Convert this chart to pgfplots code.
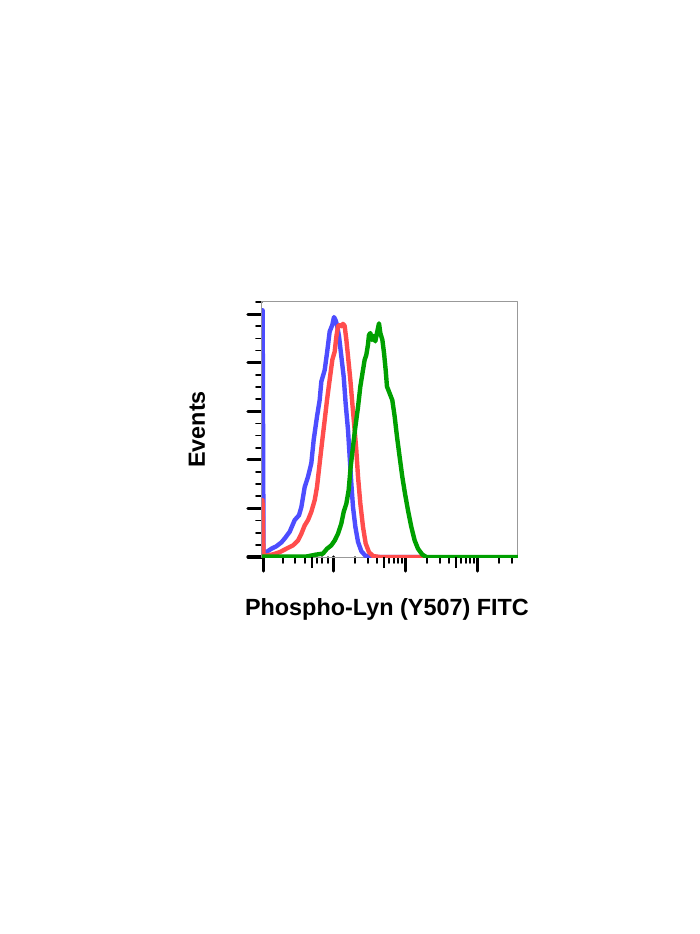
\documentclass[border=0pt]{standalone}
\usepackage{pgfplots}
\pgfplotsset{compat=1.18}
\usepackage{fontspec}
\setmainfont{Liberation Sans}
\definecolor{cblue}{RGB}{77,77,255}
\definecolor{cred}{RGB}{255,77,77}
\definecolor{cgreen}{RGB}{0,160,0}
\begin{document}
\begin{tikzpicture}
\useasboundingbox (0,0) rectangle (350pt,467pt);
\begin{axis}[
  at={(131pt,188.5pt)}, anchor=south west,
  scale only axis, width=128pt, height=127.5pt,
  xmin=0.009, xmax=3.565, ymin=0, ymax=5.25,
  axis line style={draw=gray!80, line width=0.5pt},
  tick align=outside, xtick pos=bottom, ytick pos=left,
  xtick={0.032,1,2,3},
  minor xtick={0.306,0.472,0.611,0.778,0.843,0.926,
               1.301,1.477,1.602,1.778,1.845,1.903,1.954,
               2.301,2.477,2.602,2.778,2.845,2.903,2.954,
               3.301,3.477},
  ytick={0,1,2,3,4,5},
  minor ytick={0.25,0.5,0.75,1.25,1.5,1.75,2.25,2.5,2.75,3.25,3.5,3.75,4.25,4.5,4.75,5.25},
  xticklabels={}, yticklabels={},
  major tick length=7pt, minor tick length=3pt,
  major tick style={black, line width=1.6pt},
  minor tick style={black, line width=0.9pt},
  xlabel={Phospho-Lyn (Y507) FITC},
  ylabel={Events},
  label style={font=\fontsize{11.7}{14}\selectfont\bfseries},
  xlabel style={at={(axis description cs:0.488,-0.204)}, anchor=center},
  ylabel style={at={(axis description cs:-0.254,0.5)}, anchor=center},
  line join=round, line cap=round,
]
\addplot[cblue, line width=2.2pt] coordinates {
(0.018,0) (0.018,5.08) (0.03,0.08) (0.069,0.1) (0.139,0.17) (0.208,0.22) (0.278,0.3)
(0.324,0.38) (0.394,0.52) (0.463,0.76) (0.523,0.86) (0.556,1.03) (0.602,1.44)
(0.648,1.65) (0.694,1.93) (0.727,2.41) (0.773,2.89) (0.810,3.23) (0.833,3.61)
(0.880,3.85) (0.912,4.2) (0.949,4.64) (0.986,4.78) (1.009,4.94) (1.032,4.87)
(1.051,4.78) (1.079,4.54) (1.111,4.13) (1.144,3.71) (1.171,3.16) (1.204,2.61)
(1.227,2.06) (1.250,1.51) (1.273,1.03) (1.306,0.62) (1.343,0.31) (1.389,0.12)
(1.449,0.02) (1.528,0) (2.27,0)
};
\addplot[cred, line width=2.2pt] coordinates {
(0.016,0) (0.016,1.17) (0.03,0.04) (0.069,0.03) (0.162,0.055) (0.255,0.1) (0.347,0.17)
(0.440,0.24) (0.509,0.34) (0.556,0.48) (0.602,0.65) (0.648,0.76) (0.694,0.93)
(0.741,1.17) (0.773,1.44) (0.810,1.93) (0.847,2.41) (0.880,2.82) (0.912,3.23)
(0.949,3.65) (0.986,4.06) (1.019,4.23) (1.042,4.54) (1.065,4.75) (1.088,4.78)
(1.111,4.75) (1.134,4.80) (1.157,4.76) (1.181,4.47) (1.204,4.13) (1.236,3.65)
(1.264,3.16) (1.296,2.61) (1.319,2.20) (1.343,1.65) (1.375,1.10) (1.412,0.62)
(1.449,0.28) (1.495,0.10) (1.551,0.02) (1.644,0) (2.269,0)
};
\addplot[cgreen, line width=2.2pt] coordinates {
(0.009,0.01) (0.625,0.01) (0.764,0.05) (0.856,0.07) (0.912,0.17) (0.972,0.24)
(1.019,0.34) (1.065,0.48) (1.111,0.69) (1.144,0.93) (1.181,1.10) (1.213,1.38)
(1.241,1.86) (1.273,2.27) (1.306,2.68) (1.343,3.09) (1.375,3.51) (1.412,3.85)
(1.435,4.06) (1.458,4.16) (1.481,4.37) (1.495,4.57) (1.514,4.61) (1.537,4.47)
(1.560,4.55) (1.583,4.44) (1.606,4.61) (1.634,4.81) (1.653,4.61) (1.681,4.47)
(1.704,4.20) (1.727,3.85) (1.745,3.51) (1.782,3.37) (1.819,3.23) (1.852,2.89)
(1.884,2.48) (1.921,2.06) (1.958,1.65) (1.995,1.31) (2.037,0.96) (2.083,0.62)
(2.130,0.34) (2.176,0.17) (2.236,0.05) (2.292,0) (3.565,0)
};
\end{axis}
% overlay axis carrying the longer mid-decade (5x) ticks
\begin{axis}[
  at={(131pt,188.5pt)}, anchor=south west,
  scale only axis, width=128pt, height=127.5pt,
  xmin=0.009, xmax=3.565, ymin=0, ymax=5.25,
  hide y axis, axis x line*=bottom,
  axis line style={draw=none},
  tick align=outside,
  xtick={0.704,1.699,2.699}, xticklabels={},
  minor xtick={},
  major tick length=5.5pt,
  major tick style={black, line width=1.1pt},
]
\end{axis}
\end{tikzpicture}
\end{document}
